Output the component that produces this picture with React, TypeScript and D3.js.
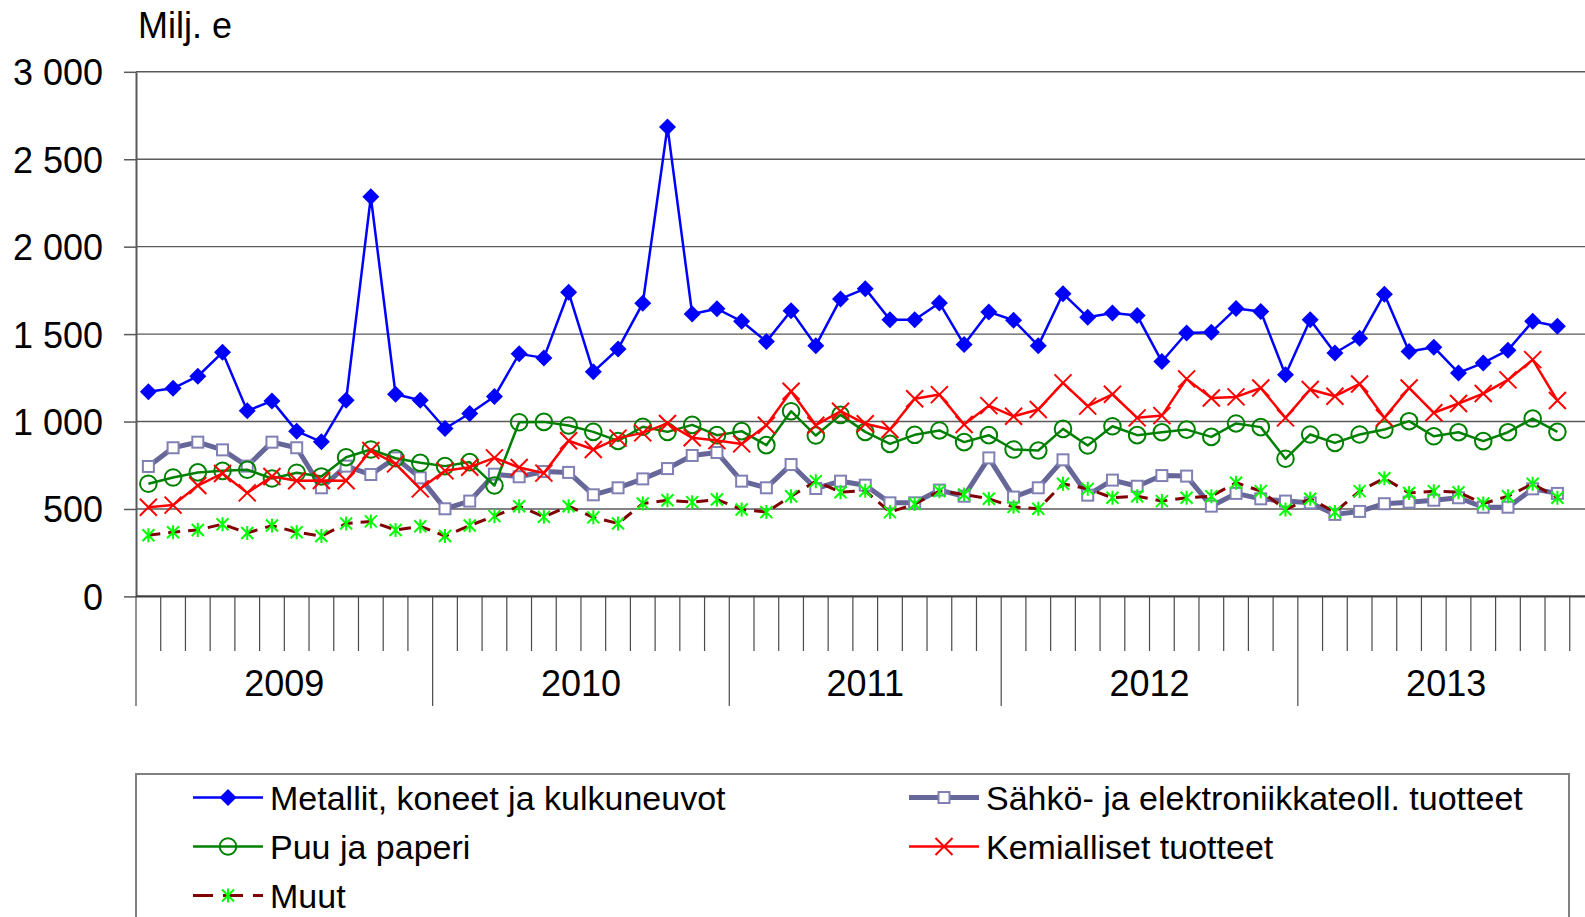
import { useEffect, useRef } from 'react'
import * as d3 from 'd3'

// categories: 2011 only has 11 months in the source chart, 2013 ends in an empty slot
const years = ['2009', '2010', '2011', '2012', '2013']
const monthsPerYear = [12, 12, 11, 12, 12]
const yTicks = [0, 500, 1000, 1500, 2000, 2500, 3000]

const metallit = [
	1170, 1190, 1259, 1396, 1061, 1118, 945, 884, 1122, 2285,
	1156, 1122, 960, 1046, 1143, 1387, 1364, 1739, 1284, 1415,
	1676, 2685, 1615, 1645, 1573, 1457, 1634, 1434, 1701, 1760,
	1582, 1582, 1678, 1440, 1627, 1579, 1434, 1731, 1596,
	1621, 1606, 1343, 1506, 1511, 1646, 1629, 1267, 1582,
	1392, 1476, 1728, 1400, 1425, 1278, 1335, 1408, 1573, 1545
]
const sahko = [
	743, 850, 882, 838, 745, 882, 850, 621, 745, 697,
	792, 678, 501, 545, 699, 684, 714, 709, 581, 621,
	672, 731, 806, 823, 659, 621, 754, 617, 659, 636,
	535, 535, 608, 573, 792, 568, 621, 781, 579,
	665, 630, 691, 688, 516, 589, 558, 545, 535,
	469, 486, 530, 539, 550, 564, 510, 510, 615, 589
]
const puu = [
	644, 680, 709, 718, 724, 674, 707, 686, 796, 840,
	790, 764, 745, 768, 634, 996, 998, 977, 941, 889,
	970, 941, 981, 922, 945, 865, 1059, 920, 1038, 941,
	872, 924, 949, 882, 922, 840, 834, 958, 863,
	973, 922, 939, 954, 912, 989, 968, 787, 926,
	878, 926, 954, 1002, 916, 939, 888, 939, 1017, 941
]
const kemia = [
	510, 522, 634, 703, 592, 686, 661, 663, 661, 834,
	758, 615, 718, 739, 792, 737, 705, 890, 840, 905,
	935, 989, 907, 891, 872, 979, 1173, 979, 1059, 987,
	954, 1130, 1154, 983, 1091, 1030, 1069, 1221, 1088,
	1156, 1021, 1034, 1244, 1135, 1141, 1192, 1021, 1183,
	1145, 1215, 1021, 1192, 1050, 1103, 1160, 1238, 1354, 1120
]
const muut = [
	350, 367, 380, 413, 363, 405, 367, 345, 417, 429,
	380, 401, 345, 405, 459, 516, 455, 516, 452, 417,
	531, 550, 539, 554, 497, 482, 573, 659, 596, 604,
	482, 528, 602, 583, 558, 512, 501, 644, 615,
	564, 573, 545, 564, 573, 650, 602, 497, 558,
	482, 602, 676, 591, 602, 596, 531, 573, 644, 564
]

const seriesNames = [
	'Metallit, koneet ja kulkuneuvot',
	'Sähkö- ja elektroniikkateoll. tuotteet',
	'Puu ja paperi',
	'Kemialliset tuotteet',
	'Muut'
]

const W = 1585
const H = 917
const font = 'Liberation Sans, Arial, sans-serif'

// marker drawers
function marker(g: any, kind: string, cx: number, cy: number) {
	if (kind === 'diamond') {
		const s = 8.5
		g.append('path').attr('d', `M${cx},${cy - s}L${cx + s},${cy}L${cx},${cy + s}L${cx - s},${cy}Z`)
			.attr('fill', '#0000ff')
	} else if (kind === 'square') {
		const s = 5.5
		g.append('rect').attr('x', cx - s).attr('y', cy - s).attr('width', 2 * s).attr('height', 2 * s)
			.attr('fill', '#ffffff').attr('stroke', '#8080b4').attr('stroke-width', 2)
	} else if (kind === 'circle') {
		g.append('circle').attr('cx', cx).attr('cy', cy).attr('r', 8.3)
			.attr('fill', 'none').attr('stroke', '#008000').attr('stroke-width', 2)
	} else if (kind === 'x') {
		const s = 8.5
		g.append('path').attr('d', `M${cx - s},${cy - s}L${cx + s},${cy + s}M${cx - s},${cy + s}L${cx + s},${cy - s}`)
			.attr('stroke', '#ff0000').attr('stroke-width', 2).attr('fill', 'none')
	} else if (kind === 'star') {
		const s = 6
		g.append('path').attr('d', `M${cx - s},${cy - s}L${cx + s},${cy + s}M${cx - s},${cy + s}L${cx + s},${cy - s}M${cx},${cy - s - 1}L${cx},${cy + s + 1}`)
			.attr('stroke', '#00ff00').attr('stroke-width', 2).attr('fill', 'none')
	}
}

const App = () => {
	const ref = useRef<SVGSVGElement>(null)

	useEffect(() => {
		const svg = d3.select(ref.current)
		svg.selectAll('*').remove()

		const cats: string[] = []
		years.forEach((yr, i) => {
			for (let m = 1; m <= monthsPerYear[i]; m++) cats.push(`${yr}-${m}`)
		})

		const left = 136
		const x = d3.scaleBand().domain(cats).range([left, left + cats.length * 24.72])
		const y = d3.scaleLinear().domain([0, 3000]).range([596.4, 71.8])
		const right = x.range()[1]
		const fmt = d3.formatLocale({ decimal: ',', thousands: ' ', grouping: [3], currency: ['', ' €'] }).format(',d')

		// gridlines
		svg.append('g').selectAll('line')
			.data(yTicks.filter(d => d > 0))
			.enter().append('line')
			.attr('x1', left).attr('x2', right)
			.attr('y1', d => y(d)).attr('y2', d => y(d))
			.attr('stroke', '#5a5a5a').attr('stroke-width', 1.4)

		// y axis
		const yAxis = d3.axisLeft(y).tickValues(yTicks).tickSize(12).tickSizeOuter(0).tickPadding(21).tickFormat(d => fmt(d as number))
		const ya = svg.append('g').attr('transform', `translate(${left},0)`).call(yAxis)
		ya.select('.domain').attr('stroke', '#595959').attr('stroke-width', 2)
		ya.selectAll('.tick line').attr('stroke', '#595959').attr('stroke-width', 1.5)
		ya.selectAll('.tick text').attr('font-family', font).attr('font-size', 36).attr('fill', '#000').attr('dy', '0.36em')

		svg.append('text').attr('x', 138).attr('y', 38).attr('font-family', font).attr('font-size', 36).text('Milj. e')

		// category ticks
		const tickG = svg.append('g')
		const bounds = cats.map(c => x(c) as number).concat([right])
		const yearStarts: number[] = []
		let acc = 0
		monthsPerYear.forEach(n => { yearStarts.push(acc); acc += n })
		yearStarts.push(acc)
		tickG.selectAll('line')
			.data(bounds)
			.enter().append('line')
			.attr('x1', d => d).attr('x2', d => d)
			.attr('y1', y(0))
			.attr('y2', (d, i) => yearStarts.includes(i) ? 706 : 651)
			.attr('stroke', '#4a4a4a').attr('stroke-width', 1.2)

		svg.append('line').attr('x1', left).attr('x2', right).attr('y1', y(0)).attr('y2', y(0))
			.attr('stroke', '#404040').attr('stroke-width', 2.2)

		svg.append('g').selectAll('text')
			.data(years)
			.enter().append('text')
			.attr('x', (d, i) => (bounds[yearStarts[i]] + bounds[yearStarts[i + 1]]) / 2)
			.attr('y', 696)
			.attr('text-anchor', 'middle')
			.attr('font-family', font).attr('font-size', 36)
			.text(d => d)

		// series
		const series = [
			{ values: metallit, color: '#0000ff', width: 2.5, dash: null, kind: 'diamond' },
			{ values: sahko, color: '#666699', width: 5, dash: null, kind: 'square' },
			{ values: puu, color: '#008000', width: 2.5, dash: null, kind: 'circle' },
			{ values: kemia, color: '#ff0000', width: 2.5, dash: null, kind: 'x' },
			{ values: muut, color: '#800000', width: 3, dash: '12,8', kind: 'star' }
		]
		const cx = (i: number) => (x(cats[i]) as number) + x.bandwidth() / 2
		const line = d3.line<number>().x((d, i) => cx(i)).y(d => y(d))

		series.forEach(s => {
			const g = svg.append('g')
			g.append('path').attr('d', line(s.values))
				.attr('fill', 'none').attr('stroke', s.color).attr('stroke-width', s.width)
				.attr('stroke-linejoin', 'round')
				.attr('stroke-dasharray', s.dash)
			s.values.forEach((v, i) => marker(g, s.kind, cx(i), y(v)))
		})

		// legend
		const lg = svg.append('g')
		lg.append('rect').attr('x', 136).attr('y', 774).attr('width', 1433).attr('height', 200)
			.attr('fill', '#fff').attr('stroke', '#808080').attr('stroke-width', 2)
		const legendPos = [
			{ x: 193, y: 797.5 },
			{ x: 909, y: 797.5 },
			{ x: 193, y: 846.5 },
			{ x: 909, y: 846.5 },
			{ x: 193, y: 895.5 }
		]
		series.forEach((s, i) => {
			const p = legendPos[i]
			lg.append('line').attr('x1', p.x).attr('x2', p.x + 70).attr('y1', p.y).attr('y2', p.y)
				.attr('stroke', s.color).attr('stroke-width', s.width).attr('stroke-dasharray', s.dash ? '20,10' : null)
			marker(lg, s.kind, p.x + 35, p.y)
			lg.append('text').attr('x', p.x + 77).attr('y', p.y + 12)
				.attr('font-family', font).attr('font-size', 34).text(seriesNames[i])
		})
	}, [])

	return (
		<svg ref={ref} width={W} height={H} style={{ position: 'absolute', left: 0, top: 0, background: '#fff' }} />
	)
}

export default App
